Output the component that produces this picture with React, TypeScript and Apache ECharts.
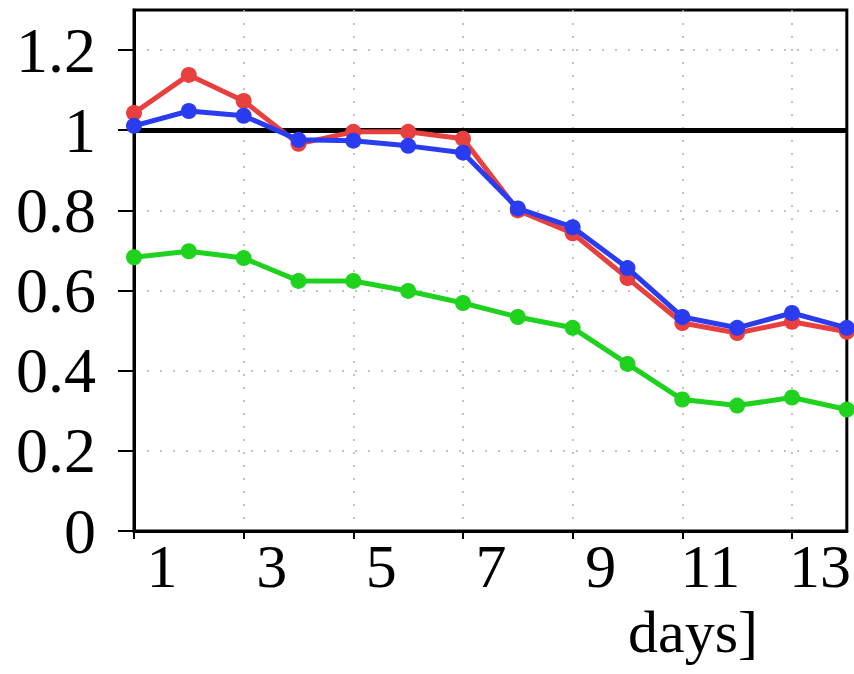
import React, { useEffect, useRef } from "react";
import * as echarts from "echarts";

const days = ["1", "2", "3", "4", "5", "6", "7", "8", "9", "10", "11", "12", "13", "14"];
const redValues = [1.043, 1.138, 1.073, 0.966, 0.996, 0.996, 0.979, 0.8, 0.743, 0.631, 0.519, 0.494, 0.522, 0.497];
const blueValues = [1.011, 1.048, 1.036, 0.976, 0.974, 0.961, 0.944, 0.805, 0.758, 0.656, 0.534, 0.507, 0.544, 0.507];
const greenValues = [0.683, 0.698, 0.681, 0.624, 0.624, 0.599, 0.569, 0.534, 0.507, 0.417, 0.328, 0.313, 0.333, 0.303];
const yTicks = [0, 0.2, 0.4, 0.6, 0.8, 1, 1.2];
const referenceValue = 1;
const xAxisTitle = "days]";

const FONT = "'Liberation Serif', 'DejaVu Serif', serif";

export default function App() {
  const ref = useRef<HTMLDivElement>(null);
  useEffect(() => {
    if (!ref.current) return;
    const chart = echarts.init(ref.current, null, { renderer: "svg" });
    const mkSeries = (name: string, data: number[], color: string, z: number, extra: any = {}) => ({
      name,
      type: "line",
      data,
      z,
      symbol: "circle",
      symbolSize: 16,
      lineStyle: { color, width: 5 },
      itemStyle: { color },
      ...extra,
    });
    chart.setOption({
      animation: false,
      grid: {
        left: 134,
        right: 3,
        top: 10,
        bottom: 143,
        show: true,
        borderColor: "#000",
        borderWidth: 3,
        backgroundColor: "transparent",
      },
      xAxis: {
        type: "category",
        data: days,
        boundaryGap: false,
        axisLine: { lineStyle: { color: "#000", width: 3 } },
        axisTick: { interval: 1, length: 8, lineStyle: { color: "#000", width: 2 } },
        axisLabel: {
          interval: 1,
          fontFamily: FONT,
          fontSize: 62,
          color: "#000",
          margin: 4,
          padding: [0, 0, 0, 56],
        },
        splitLine: {
          show: true,
          interval: 1,
          lineStyle: { color: "#b0b0b0", width: 1.5, type: [2, 11] },
        },
      },
      yAxis: {
        type: "value",
        min: 0,
        max: 1.3,
        interval: 0.2,
        axisLine: { show: true, lineStyle: { color: "#000", width: 3 } },
        axisTick: { show: true, customValues: yTicks, length: 16, lineStyle: { color: "#000", width: 2 } },
        axisLabel: {
          customValues: yTicks,
          fontFamily: FONT,
          fontSize: 64,
          color: "#000",
          margin: 38,
        },
        splitLine: {
          show: true,
          lineStyle: { color: "#b0b0b0", width: 1.5, type: [2, 11] },
        },
      },
      series: [
        mkSeries("red", redValues, "#e8403f", 3, {
          markLine: {
            silent: true,
            symbol: "none",
            label: { show: false },
            lineStyle: { color: "#000", width: 5, type: "solid" },
            data: [{ yAxis: referenceValue }],
            z: 1,
          },
        }),
        mkSeries("blue", blueValues, "#2a3cf0", 4),
        mkSeries("green", greenValues, "#1ed21e", 5),
      ],
      graphic: [
        {
          type: "rect",
          shape: { x: 0, y: 598, width: 854, height: 76 },
          style: { fill: "#fff" },
          z: 100,
        },
        {
          type: "text",
          x: 628,
          y: 602,
          z: 101,
          style: {
            text: xAxisTitle,
            fontFamily: FONT,
            fontSize: 60,
            fill: "#000",
          },
        },
      ],
    });
    return () => chart.dispose();
  }, []);
  return <div ref={ref} style={{ width: 854, height: 674, position: "absolute", left: 0, top: 0 }} />;
}
